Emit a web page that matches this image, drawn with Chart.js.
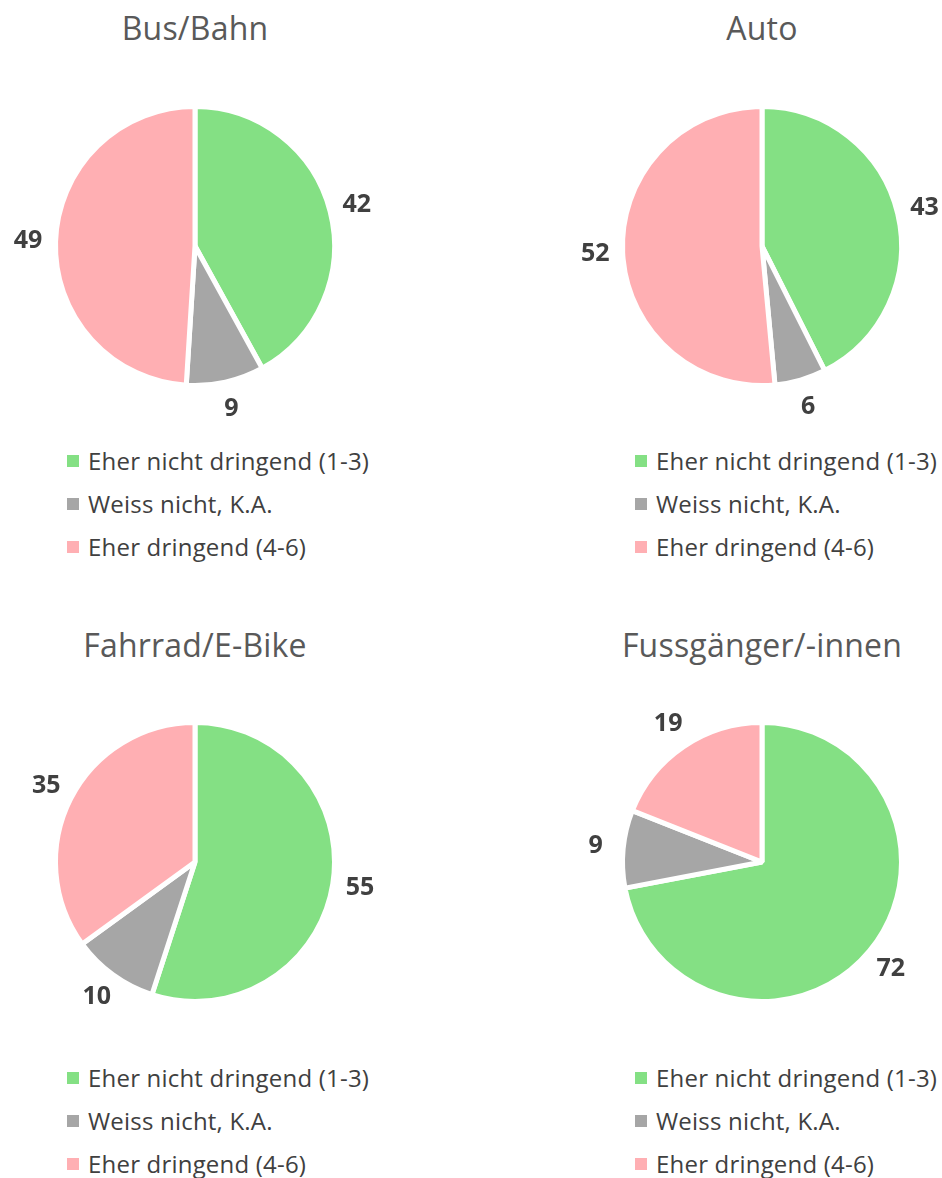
<!DOCTYPE html>
<html>
<head>
<meta charset="utf-8">
<script src="https://cdn.jsdelivr.net/npm/chart.js@4"></script>
<style>
  html, body { margin:0; padding:0; background:#fff; }
  body { width:942px; height:1178px; position:relative; overflow:hidden; font-family:"Open Sans", sans-serif; }
  .title { position:absolute; width:400px; text-align:center; font-size:32px; color:#595959; line-height:40px; letter-spacing:0.2px; }
  .pie { position:absolute; }
  .legend { position:absolute; font-size:24px; color:#404040; letter-spacing:0.2px; }
  .legend div { position:relative; height:43px; line-height:28px; padding-left:20px; white-space:nowrap; }
  .legend span.sq { position:absolute; left:-1px; top:8px; width:12px; height:12px; }
</style>
</head>
<body>
<script>
const categories = ["Eher nicht dringend (1-3)", "Weiss nicht, K.A.", "Eher dringend (4-6)"];
const colors = ["#84E084", "#A6A6A6", "#FFAFB3"];
const chartTitles = ["Bus/Bahn", "Auto", "Fahrrad/E-Bike", "Fussgänger/-innen"];
const busBahn = [42, 9, 49];
const auto = [43, 6, 52];
const fahrrad = [55, 10, 35];
const fussgaenger = [72, 9, 19];
const seriesList = [busBahn, auto, fahrrad, fussgaenger];

const cells = [
  {cx:195, cy:246, ty:8, lx:68, ly:447},
  {cx:762, cy:246, ty:8, lx:636, ly:447},
  {cx:195, cy:862, ty:625, lx:68, ly:1064},
  {cx:762, cy:862, ty:625, lx:636, ly:1064}
];

const labelPlugin = {
  id: 'outLabels',
  afterDatasetsDraw(chart) {
    const ctx = chart.ctx;
    const meta = chart.getDatasetMeta(0);
    const data = chart.data.datasets[0].data;
    ctx.save();
    ctx.font = "bold 25px 'Open Sans', sans-serif";
    ctx.fillStyle = "#404040";
    ctx.textAlign = "center";
    ctx.textBaseline = "middle";
    meta.data.forEach((arc, i) => {
      const p = arc.getProps(['x','y','startAngle','endAngle','outerRadius'], true);
      const mid = (p.startAngle + p.endAngle) / 2;
      const r = 167;
      ctx.fillText(String(data[i]), p.x + Math.cos(mid) * r, p.y + Math.sin(mid) * r);
    });
    ctx.restore();
  }
};

const SIZE = 380;
const PAD = (SIZE - 284) / 2;

seriesList.forEach((vals, k) => {
  const c = cells[k];
  const t = document.createElement('div');
  t.className = 'title';
  t.style.left = (c.cx - 200) + 'px';
  t.style.top = c.ty + 'px';
  t.textContent = chartTitles[k];
  document.body.appendChild(t);

  const cv = document.createElement('canvas');
  cv.className = 'pie';
  cv.width = SIZE; cv.height = SIZE;
  cv.style.width = SIZE + 'px'; cv.style.height = SIZE + 'px';
  cv.style.left = (c.cx - SIZE/2) + 'px';
  cv.style.top = (c.cy - SIZE/2) + 'px';
  document.body.appendChild(cv);

  new Chart(cv, {
    type: 'pie',
    data: {
      labels: categories,
      datasets: [{ data: vals, backgroundColor: colors, borderColor: '#ffffff', borderWidth: 5 }]
    },
    options: {
      responsive: false,
      animation: false,
      devicePixelRatio: 1,
      layout: { padding: PAD },
      plugins: { legend: { display: false }, tooltip: { enabled: false }, title: { display: false } }
    },
    plugins: [labelPlugin]
  });

  const lg = document.createElement('div');
  lg.className = 'legend';
  lg.style.left = c.lx + 'px';
  lg.style.top = c.ly + 'px';
  categories.forEach((name, i) => {
    const row = document.createElement('div');
    const sq = document.createElement('span');
    sq.className = 'sq';
    sq.style.background = colors[i];
    row.appendChild(sq);
    row.appendChild(document.createTextNode(name));
    lg.appendChild(row);
  });
  document.body.appendChild(lg);
});
</script>
</body>
</html>
